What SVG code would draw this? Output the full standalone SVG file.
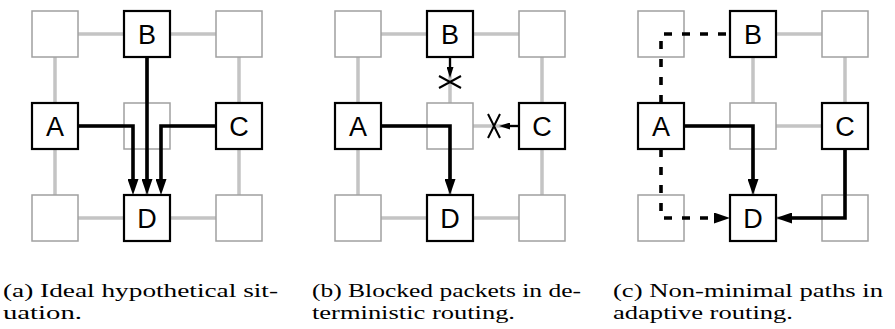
<svg xmlns="http://www.w3.org/2000/svg" width="895" height="329" viewBox="0 0 895 329">
<style>
.grid{stroke:#c4c4c4;stroke-width:3.5;fill:none}
.gbox{fill:#fff;stroke:#a0a0a0;stroke-width:1.5}
.bbox{fill:#fff;stroke:#000;stroke-width:2.2}
.lbl{font-family:"Liberation Sans",Arial,sans-serif;font-size:27px;text-anchor:middle;fill:#000}
.route{stroke:#000;stroke-width:3.6;fill:none;stroke-linejoin:miter}
.thin{stroke:#000;stroke-width:2;fill:none}
.dash{stroke:#000;stroke-width:3.6;fill:none;stroke-dasharray:8 10}
.cap{font-family:"Liberation Serif","Times New Roman",serif;font-size:19.5px;fill:#000}
</style>
<defs>
<marker id="ah" viewBox="0 0 16 11" refX="1" refY="5.5" markerWidth="16" markerHeight="11" markerUnits="userSpaceOnUse" orient="auto">
<path d="M0,0 L16,5.5 L0,11 z" fill="#000"/>
</marker>
<marker id="ahs" viewBox="0 0 11 7" refX="1" refY="3.5" markerWidth="11" markerHeight="7" markerUnits="userSpaceOnUse" orient="auto">
<path d="M0,0 L11,3.5 L0,7 z" fill="#000"/>
</marker>
</defs>

<!-- grid links -->
<g id="grid-links">
<g id="grid-a">
<path class="grid" d="M55,34 H239 M55,126 H239 M55,218 H239 M55,34 V218 M147,34 V218 M239,34 V218"/>
</g>
<g id="grid-b">
<path class="grid" d="M358,34 H542 M358,126 H542 M358,218 H542 M358,34 V218 M450,34 V218 M542,34 V218"/>
</g>
<g id="grid-c">
<path class="grid" d="M753,34 H845 M661,126 H845 M753,218 H845 M753,34 V218 M845,34 V218"/>
</g>
</g>

<!-- panel a nodes -->
<g id="a-tl"><rect class="gbox" x="32" y="11" width="46" height="46"/></g>
<g id="a-B"><rect class="bbox" x="124" y="11" width="46" height="46"/><text class="lbl" x="147" y="44">B</text></g>
<g id="a-tr"><rect class="gbox" x="216" y="11" width="46" height="46"/></g>
<g id="a-A"><rect class="bbox" x="32" y="103" width="46" height="46"/><text class="lbl" x="55" y="136">A</text></g>
<g id="a-mid"><rect class="gbox" x="124" y="103" width="46" height="46"/></g>
<g id="a-C"><rect class="bbox" x="216" y="103" width="46" height="46"/><text class="lbl" x="239" y="136">C</text></g>
<g id="a-bl"><rect class="gbox" x="32" y="195" width="46" height="46"/></g>
<g id="a-D"><rect class="bbox" x="124" y="195" width="46" height="46"/><text class="lbl" x="147" y="228">D</text></g>
<g id="a-br"><rect class="gbox" x="216" y="195" width="46" height="46"/></g>

<!-- panel b nodes -->
<g id="b-tl"><rect class="gbox" x="335" y="11" width="46" height="46"/></g>
<g id="b-B"><rect class="bbox" x="427" y="11" width="46" height="46"/><text class="lbl" x="450" y="44">B</text></g>
<g id="b-tr"><rect class="gbox" x="519" y="11" width="46" height="46"/></g>
<g id="b-A"><rect class="bbox" x="335" y="103" width="46" height="46"/><text class="lbl" x="358" y="136">A</text></g>
<g id="b-mid"><rect class="gbox" x="427" y="103" width="46" height="46"/></g>
<g id="b-C"><rect class="bbox" x="519" y="103" width="46" height="46"/><text class="lbl" x="542" y="136">C</text></g>
<g id="b-bl"><rect class="gbox" x="335" y="195" width="46" height="46"/></g>
<g id="b-D"><rect class="bbox" x="427" y="195" width="46" height="46"/><text class="lbl" x="450" y="228">D</text></g>
<g id="b-br"><rect class="gbox" x="519" y="195" width="46" height="46"/></g>

<!-- panel c nodes -->
<g id="c-tl"><rect class="gbox" x="638" y="11" width="46" height="46"/></g>
<g id="c-B"><rect class="bbox" x="730" y="11" width="46" height="46"/><text class="lbl" x="753" y="44">B</text></g>
<g id="c-tr"><rect class="gbox" x="822" y="11" width="46" height="46"/></g>
<g id="c-A"><rect class="bbox" x="638" y="103" width="46" height="46"/><text class="lbl" x="661" y="136">A</text></g>
<g id="c-mid"><rect class="gbox" x="730" y="103" width="46" height="46"/></g>
<g id="c-C"><rect class="bbox" x="822" y="103" width="46" height="46"/><text class="lbl" x="845" y="136">C</text></g>
<g id="c-bl"><rect class="gbox" x="638" y="195" width="46" height="46"/></g>
<g id="c-D"><rect class="bbox" x="730" y="195" width="46" height="46"/><text class="lbl" x="753" y="228">D</text></g>
<g id="c-br"><rect class="gbox" x="822" y="195" width="46" height="46"/></g>

<!-- routes -->
<g id="connectors">
<path class="route" d="M78,126 H133 V180" marker-end="url(#ah)"/>
<path class="route" d="M147,57 V180" marker-end="url(#ah)"/>
<path class="route" d="M216,126 H161 V180" marker-end="url(#ah)"/>

<path class="route" d="M381,126 H450 V180" marker-end="url(#ah)"/>
<path class="thin" d="M450,57 V68" marker-end="url(#ahs)"/>
<path class="thin" d="M439,76 L461,88 M439,88 L461,76"/>
<path class="thin" d="M519,126 H509" marker-end="url(#ahs)"/>
<path class="thin" d="M488,114 L500,138 M488,138 L500,114"/>

<path class="route" d="M684,126 H753 V180" marker-end="url(#ah)"/>
<path class="route" d="M845,149 V218 H791" marker-end="url(#ah)"/>
<path class="dash" d="M661,103 V34 H730"/>
<path class="dash" d="M661,149 V218 H715" marker-end="url(#ah)"/>
</g>

<!-- captions -->
<g id="captions">
<text class="cap" x="3" y="297" textLength="275" lengthAdjust="spacingAndGlyphs">(a) Ideal hypothetical sit-</text>
<text class="cap" x="3" y="319" textLength="79" lengthAdjust="spacingAndGlyphs">uation.</text>
<text class="cap" x="312" y="297" textLength="269" lengthAdjust="spacingAndGlyphs">(b) Blocked packets in de-</text>
<text class="cap" x="312" y="319" textLength="203" lengthAdjust="spacingAndGlyphs">terministic routing.</text>
<text class="cap" x="613" y="297" textLength="270" lengthAdjust="spacingAndGlyphs">(c) Non-minimal paths in</text>
<text class="cap" x="613" y="319" textLength="180" lengthAdjust="spacingAndGlyphs">adaptive routing.</text>
</g>
</svg>
